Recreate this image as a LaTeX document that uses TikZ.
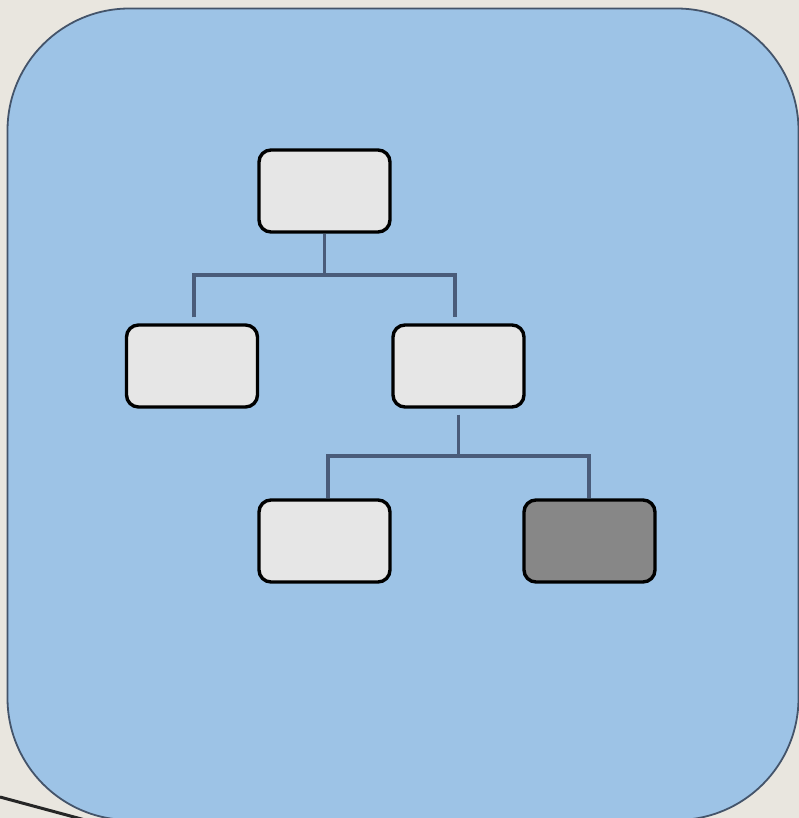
\documentclass[tikz,border=0pt]{standalone}
\usetikzlibrary{calc}
\definecolor{bgc}{HTML}{E9E6DF}
\definecolor{panel}{HTML}{9DC3E6}
\definecolor{panelborder}{HTML}{44546A}
\definecolor{connc}{HTML}{4A5C7A}
\definecolor{boxfill}{HTML}{E6E6E6}
\definecolor{darkfill}{HTML}{878787}
\tikzset{
  orgbox/.style={draw=black, line width=3.4pt, fill=boxfill, rounded corners=12pt,
    minimum width=131pt, minimum height=82pt, inner sep=0pt},
  darkbox/.style={orgbox, fill=darkfill},
  conn/.style={draw=connc, line width=3.4pt},
}
\begin{document}
\begin{tikzpicture}[x=1pt,y=-1pt]
\useasboundingbox (0,0) rectangle (799,818);
\fill[bgc] (0,0) rectangle (799,818);
\draw[black!85, line width=3pt] (0,797) -- (100,824);
\draw[panelborder, fill=panel, line width=1.8pt, rounded corners=122pt] (7.5,8.5) rectangle (798.5,820);
\node[orgbox] (top) at (324.5,191) {};
\node[orgbox] (L) at (192,366) {};
\node[orgbox] (R) at (458.5,366) {};
\node[orgbox] (BL) at (324.5,541) {};
\node[darkbox] (BR) at (589.5,541) {};
\coordinate (b1) at (324,275);
\coordinate (b2) at (459,456);
\draw[conn] (top.south) -- (top.south |- b1);
\draw[conn] ([xshift=2pt,yshift=6pt]L.north) -- ([xshift=2pt]L.north |- b1) -- ([xshift=-3.5pt]R.north |- b1) -- ([xshift=-3.5pt,yshift=6pt]R.north);
\draw[conn] ([yshift=-6pt]R.south) -- (R.south |- b2);
\draw[conn] ([xshift=3.5pt]BL.north) -- ([xshift=3.5pt]BL.north |- b2) -- ([xshift=-0.5pt]BR.north |- b2) -- ([xshift=-0.5pt]BR.north);
\end{tikzpicture}
\end{document}
